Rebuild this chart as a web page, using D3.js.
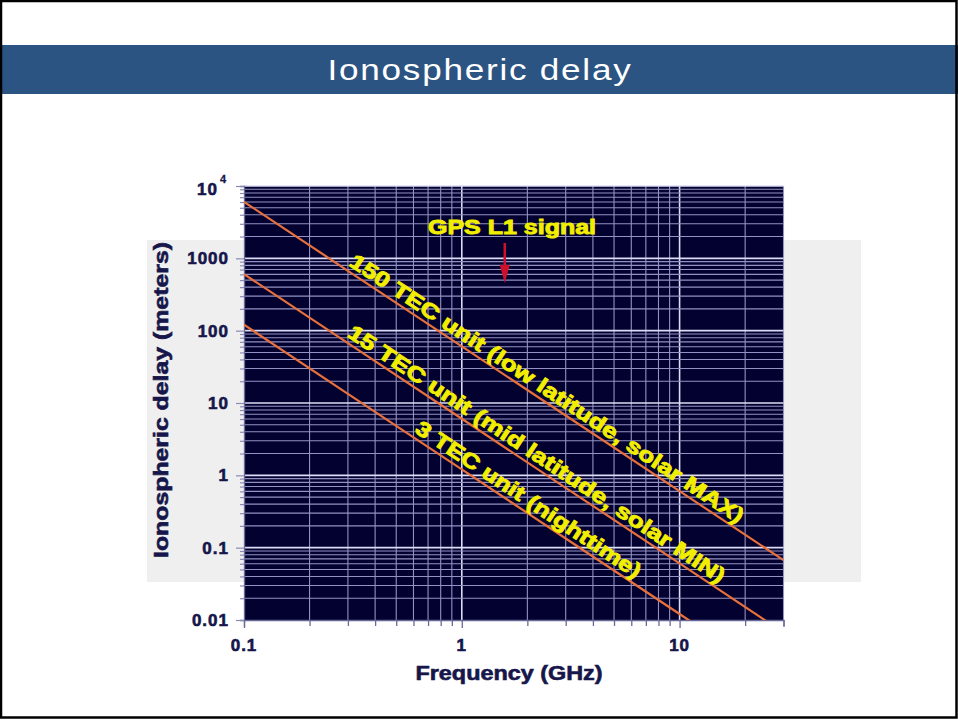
<!DOCTYPE html>
<html>
<head>
<meta charset="utf-8">
<script src="https://cdn.jsdelivr.net/npm/d3@7"></script>
<style>
  html, body { margin: 0; padding: 0; background: #fff; }
  svg { display: block; }
  text { font-family: "Liberation Sans", Arial, sans-serif; }
</style>
</head>
<body>
<svg id="chart" width="958" height="720"></svg>
<script>
// ---------- data ----------
const title = "Ionospheric delay";
const xTickValues = [0.1, 1, 10];
const xTickLabels = ["0.1", "1", "10"];
const yTickValues = [0.01, 0.1, 1, 10, 100, 1000];
const yTickLabels = ["0.01", "0.1", "1", "10", "100", "1000"];
const frequencies = [0.1, 0.3, 1, 3, 10, 30];              // GHz
const delay150 = [6045, 672, 60.5, 6.72, 0.605, 0.0672];   // meters
const delay15  = [604.5, 67.2, 6.05, 0.672, 0.0605, 0.00672];
const delay3   = [120.9, 13.4, 1.21, 0.134, 0.0121, 0.00134];
const seriesNames = [
  "150 TEC unit (low latitude, solar MAX)",
  "15 TEC unit (mid latitude, solar MIN)",
  "3 TEC unit (nighttime)"
];
const labelFreqs = [0.292, 0.286, 0.585];   // where each label starts along its line
const gpsL1 = 1.575;                       // GHz

// ---------- layout ----------
const svg = d3.select("#chart");
const W = 958, H = 720;
const plot = { left: 244, right: 783.5, top: 186, bottom: 620 };

// light grey panel behind
svg.append("rect").attr("x", 147).attr("y", 240).attr("width", 714).attr("height", 342).attr("fill", "#efefef");

// title bar
svg.append("rect").attr("x", 0).attr("y", 45).attr("width", W).attr("height", 49).attr("fill", "#2b5483");
svg.append("text").attr("x", 480).attr("y", 80).attr("text-anchor", "middle")
  .attr("fill", "#fff").attr("font-size", 30).attr("letter-spacing", 1.5)
  .attr("textLength", 305).attr("lengthAdjust", "spacingAndGlyphs")
  .text(title);

// frame
svg.append("rect").attr("x", 1).attr("y", 1).attr("width", W - 2.5).attr("height", H - 3.5)
  .attr("fill", "none").attr("stroke", "#000").attr("stroke-width", 2.5);

// scales
const x = d3.scaleLog().domain([0.1, 30]).range([plot.left, plot.right]);
const y = d3.scaleLog().domain([0.01, 10000]).range([plot.bottom, plot.top]);

// plot background
svg.append("rect").attr("x", plot.left).attr("y", plot.top)
  .attr("width", plot.right - plot.left).attr("height", plot.bottom - plot.top).attr("fill", "#03012f");

// grid
const xGrid = x.ticks(20).filter(v => v > 0.1 + 1e-9);
const yGrid = y.ticks(60).filter(v => v > 0.01 + 1e-12);
const isMajor = v => Math.abs(Math.log10(v) - Math.round(Math.log10(v))) < 1e-6;

const grid = svg.append("g");
grid.selectAll("line.v").data(xGrid).join("line")
  .attr("x1", d => x(d)).attr("x2", d => x(d))
  .attr("y1", plot.top).attr("y2", plot.bottom)
  .attr("stroke", d => isMajor(d) ? "#dcdcf6" : "#9292c4")
  .attr("stroke-width", d => isMajor(d) ? 1.6 : 1.1);
grid.selectAll("line.h").data(yGrid).join("line")
  .attr("x1", plot.left).attr("x2", plot.right)
  .attr("y1", d => y(d)).attr("y2", d => y(d))
  .attr("stroke", d => isMajor(d) ? "#dcdcf6" : "#9292c4")
  .attr("stroke-width", d => isMajor(d) ? 1.6 : 1.1);

// axes
const axisColor = "#16164a";
const xAxis = d3.axisBottom(x).tickValues(x.ticks(20)).tickSize(7).tickFormat("");
const gx = svg.append("g").attr("transform", `translate(0,${plot.bottom})`).call(xAxis);
gx.selectAll("line").attr("stroke", "#6a6a98").attr("stroke-width", 1.3)
  .attr("y2", d => isMajor(d) ? 8 : 6);
gx.select(".domain").attr("stroke", "#6a6a98").attr("stroke-width", 1.3);

const yAxis = d3.axisLeft(y).tickValues(y.ticks(60)).tickSize(4).tickFormat("");
const gy = svg.append("g").attr("transform", `translate(${plot.left},0)`).call(yAxis);
gy.selectAll("line").attr("stroke", "#8a8ab8").attr("stroke-width", 1.2)
  .attr("x2", d => isMajor(d) ? -8 : -4);
gy.select(".domain").attr("stroke", "#6a6a98").attr("stroke-width", 1.3);

// tick labels
const boldText = sel => sel.attr("font-weight", "bold").attr("fill", axisColor)
  .attr("stroke", axisColor).attr("stroke-width", 0.6);
svg.append("g").selectAll("text").data(xTickValues).join("text")
  .attr("x", (d) => x(d)).attr("y", 651).attr("text-anchor", "middle")
  .attr("font-size", 17).attr("letter-spacing", 1)
  .call(boldText)
  .text((d, i) => xTickLabels[i]);
svg.append("g").selectAll("text").data(yTickValues).join("text")
  .attr("x", 229).attr("y", d => y(d) + 6).attr("text-anchor", "end")
  .attr("font-size", 17).attr("letter-spacing", 1)
  .call(boldText)
  .text((d, i) => yTickLabels[i]);
// 10^4
svg.append("text").attr("x", 218).attr("y", y(10000) + 9).attr("text-anchor", "end")
  .attr("font-size", 17).attr("letter-spacing", 1).call(boldText)
  .text("10");
svg.append("text").attr("x", 220).attr("y", y(10000) - 3)
  .attr("font-size", 11).call(boldText).attr("stroke-width", 0.3).text("4");

// axis titles
svg.append("text").attr("x", 509).attr("y", 680).attr("text-anchor", "middle")
  .attr("font-size", 20).call(boldText)
  .attr("textLength", 187).attr("lengthAdjust", "spacingAndGlyphs")
  .text("Frequency (GHz)");
svg.append("text").attr("transform", "translate(168,400) rotate(-90)").attr("text-anchor", "middle")
  .attr("font-size", 20).call(boldText)
  .attr("textLength", 316).attr("lengthAdjust", "spacingAndGlyphs")
  .text("Ionospheric delay (meters)");

// clip
svg.append("clipPath").attr("id", "plotclip").append("rect")
  .attr("x", plot.left).attr("y", plot.top)
  .attr("width", plot.right - plot.left).attr("height", plot.bottom - plot.top);

// lines
const series = [delay150, delay15, delay3];
const line = d3.line().x((d, i) => x(frequencies[i])).y(d => y(d));
svg.append("g").attr("clip-path", "url(#plotclip)")
  .selectAll("path").data(series).join("path")
  .attr("d", d => line(d)).attr("fill", "none")
  .attr("stroke", "#e8703c").attr("stroke-width", 2.2);

// labels along lines
const yellow = "#f2ee00";
const labelLengths = [468, 448, 266];
series.forEach((vals, i) => {
  const a = Math.atan2(y(vals[1]) - y(vals[0]), x(frequencies[1]) - x(frequencies[0])) * 180 / Math.PI;
  const f0 = frequencies[0], f1 = frequencies[1];
  const t = Math.log(labelFreqs[i] / f0) / Math.log(f1 / f0);
  const v = Math.exp(Math.log(vals[0]) + t * (Math.log(vals[1]) - Math.log(vals[0])));
  svg.append("text")
    .attr("transform", `translate(${x(labelFreqs[i])},${y(v)}) rotate(${a})`)
    .attr("y", -5)
    .attr("font-size", 21).attr("font-weight", "bold").attr("fill", yellow)
    .attr("stroke", yellow).attr("stroke-width", 0.9)
    .attr("textLength", labelLengths[i]).attr("lengthAdjust", "spacingAndGlyphs")
    .text(seriesNames[i]);
});

// GPS L1 annotation
svg.append("text").attr("x", 428).attr("y", 234)
  .attr("font-size", 20).attr("font-weight", "bold").attr("fill", yellow)
  .attr("stroke", yellow).attr("stroke-width", 0.9)
  .attr("textLength", 168).attr("lengthAdjust", "spacingAndGlyphs")
  .text("GPS L1 signal");
const ax = x(gpsL1);
svg.append("line").attr("x1", ax).attr("x2", ax).attr("y1", 243).attr("y2", 268)
  .attr("stroke", "#d0102a").attr("stroke-width", 2.5);
svg.append("path").attr("d", `M${ax - 5},265 L${ax + 5},265 L${ax},283 Z`).attr("fill", "#d0102a");
</script>
</body>
</html>
